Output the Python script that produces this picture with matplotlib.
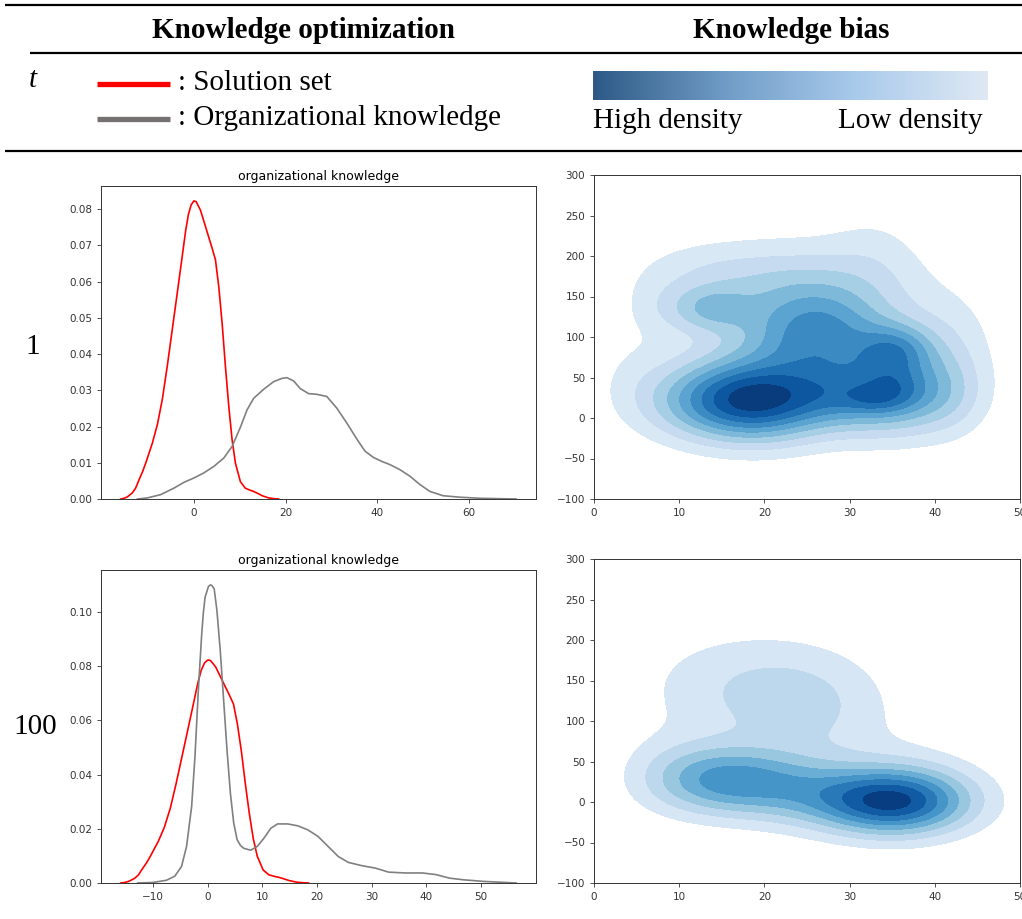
import numpy as np
import matplotlib
matplotlib.use("Agg")
import matplotlib.pyplot as plt
from matplotlib.colors import LinearSegmentedColormap, Normalize
from matplotlib.lines import Line2D

W, H = 1022, 919

# solution set density (same curve in both rows)
sol_x = [-15.94, -15.2, -14.49, -13.41, -12.7, -11.96, -11.2, -10.51, -9.06, -7.97, -6.88, -5.80,
         -4.71, -3.62, -2.54, -1.8, -1.2, -0.6, 0.0, 0.5, 1.45, 2.9, 3.99, 4.71, 5.43, 6.16, 6.88,
         7.61, 8.33, 9.06, 10.14, 11.2, 12.3, 13.0, 14.0, 14.9, 16.3, 17.5, 18.48]
sol_y = [0.0, 0.0002, 0.0006, 0.0017, 0.0030, 0.0053, 0.0075, 0.0099, 0.0154, 0.0205, 0.0275,
         0.0367, 0.0468, 0.0569, 0.0670, 0.0740, 0.0785, 0.0812, 0.0823, 0.0821, 0.0797, 0.0737,
         0.0692, 0.0660, 0.0586, 0.0485, 0.0366, 0.0256, 0.0164, 0.0099, 0.0048, 0.0030, 0.0024,
         0.0021, 0.0015, 0.0009, 0.0003, 0.0001, 0.0]

# organizational knowledge, t = 1
org1_x = [-12.32, -10.14, -7.25, -4.35, -2.17, 0.0, 2.17, 4.35, 6.52, 8.33, 10.14, 11.59, 13.04,
          15.22, 17.39, 19.20, 20.29, 21.74, 23.19, 25.0, 26.81, 28.99, 31.16, 33.33, 35.51,
          37.32, 39.13, 40.94, 42.75, 44.93, 47.10, 49.28, 51.45, 54.35, 57.97, 62.32, 70.29]
org1_y = [0.0, 0.0003, 0.0012, 0.0030, 0.0046, 0.0058, 0.0072, 0.0090, 0.0113, 0.0145, 0.0198,
          0.0246, 0.0278, 0.0303, 0.0324, 0.0333, 0.0335, 0.0326, 0.0305, 0.0291, 0.0289, 0.0283,
          0.0251, 0.0210, 0.0166, 0.0132, 0.0115, 0.0104, 0.0095, 0.0081, 0.0063, 0.0040, 0.0021,
          0.0009, 0.0005, 0.0002, 0.0]

# organizational knowledge, t = 100
org100_x = [-12.84, -10.06, -7.59, -6.05, -4.81, -3.89, -2.96, -2.35, -1.73, -1.11, -0.8, -0.49,
            0.12, 0.45, 0.74, 1.17, 1.67, 2.28, 2.90, 3.52, 4.14, 4.75, 5.37, 6.0, 6.60, 7.84,
            9.07, 10.31, 11.54, 12.78, 14.63, 16.48, 18.33, 20.19, 22.04, 23.89, 25.74, 28.21,
            30.68, 33.15, 36.23, 39.32, 41.79, 44.26, 46.73, 50.43, 56.5]
org100_y = [0.0, 0.0002, 0.0010, 0.0025, 0.0061, 0.0135, 0.0282, 0.0466, 0.0712, 0.0920, 0.1000,
            0.1055, 0.1094, 0.1100, 0.1098, 0.1086, 0.1006, 0.0859, 0.0675, 0.0491, 0.0331,
            0.0221, 0.0160, 0.0138, 0.0128, 0.0121, 0.0135, 0.0166, 0.0202, 0.0218, 0.0218,
            0.0211, 0.0196, 0.0172, 0.0135, 0.0098, 0.0076, 0.0064, 0.0055, 0.0040, 0.0037,
            0.0037, 0.0031, 0.0018, 0.0012, 0.0006, 0.0]

# knowledge bias, t = 1: kernel centres, spreads, weights
bias1_cx = [14.5, 20.5, 28, 35, 35.5, 32.5, 42, 35.5, 26, 26, 13.5, 20, 33, 42, 4, 7, 12]
bias1_cy = [21, 20, 24, 30, 35, 22, 25, 85, 105, 110, 135, 175, 200, 90, 60, 140, 185]
bias1_sx = [6.3, 5.5, 4, 5.5, 2.5, 2.5, 3, 3, 5.5, 10, 3.5, 8, 4, 3.5, 3, 3, 5]
bias1_sy = [34, 34, 25, 36, 18, 12, 35, 22, 40, 66, 20, 30, 45, 45, 35, 30, 25]
bias1_w = [0.55, 0.55, 0.15, 0.55, 0.14, 0.12, 0.1, 0.35, 0.42, 0.3, 0.3, 0.12, 0.08, 0.1,
           0.05, 0.08, 0.07]
bias1_peak = 0.98

# knowledge bias, t = 100
bias100_cx = [35, 37, 14, 20, 25.5, 8, 14, 22, 28]
bias100_cy = [0, 25, 27, 21, 14, 40, 140, 130, 115]
bias100_sx = [6.3, 6, 5.5, 5, 5, 4, 7, 6, 6]
bias100_sy = [28, 40, 30, 30, 30, 35, 50, 50, 50]
bias100_w = [0.85, 0.1, 0.46, 0.22, 0.2, 0.06, 0.14, 0.14, 0.14]
bias100_peak = 0.86

plt.rcParams['font.size'] = 7.5
plt.rcParams['axes.linewidth'] = 0.7
plt.rcParams['xtick.major.size'] = 2.8
plt.rcParams['ytick.major.size'] = 2.8
plt.rcParams['xtick.major.width'] = 0.6
plt.rcParams['ytick.major.width'] = 0.6
plt.rcParams['xtick.labelsize'] = 7.5
plt.rcParams['ytick.labelsize'] = 7.5
plt.rcParams['xtick.color'] = '#333333'
plt.rcParams['ytick.color'] = '#333333'
plt.rcParams['axes.edgecolor'] = '#333333'

SERIF = 'Liberation Serif'

fig = plt.figure(figsize=(W / 100, H / 100), dpi=100)


def rect(x0, y0, x1, y1):
    return [x0 / W, 1 - y1 / H, (x1 - x0) / W, (y1 - y0) / H]


def ftext(x, y, s, ha='center', **kw):
    fig.text(x / W, 1 - y / H, s, family=SERIF, fontsize=21, ha=ha, va='center', **kw)


def hline(x0, x1, y, color='black', lw=1.6):
    fig.add_artist(Line2D([x0 / W, x1 / W], [1 - y / H, 1 - y / H], color=color, lw=lw,
                          solid_capstyle='butt'))


# header table
hline(5, W, 5)
hline(30, W, 53)
hline(5, W, 151)
ftext(303, 31, 'Knowledge optimization', weight='bold')
ftext(791, 31, 'Knowledge bias', weight='bold')
ftext(33, 80, 't', style='italic')
ftext(33, 347, '1')
ftext(35, 727, '100')

hline(97, 170, 84, color='#ff0000', lw=3.8)
hline(97, 170, 119, color='#767171', lw=3.8)
ftext(178, 83, ': Solution set', ha='left')
ftext(178, 118, ': Organizational knowledge', ha='left')

bar_cmap = LinearSegmentedColormap.from_list('bar', ['#2d5986', '#6f9cc6', '#a9caeb', '#dfe9f4'])
bax = fig.add_axes(rect(593, 71, 987, 100))
bax.imshow(np.linspace(0, 1, 256)[None, :], aspect='auto', cmap=bar_cmap)
bax.axis('off')
ftext(593, 121, 'High density', ha='left')
ftext(983, 121, 'Low density', ha='right')


def draw_kde(ax, ox, oy, xticks):
    ax.plot(sol_x, sol_y, color='red', lw=1.2)
    ax.plot(ox, oy, color='gray', lw=1.2)
    ax.set_ylim(bottom=0)
    ax.set_xticks(xticks)
    ax.set_title('organizational knowledge', fontsize=9, pad=4)


ax1 = fig.add_axes(rect(101, 186, 536, 499))
draw_kde(ax1, org1_x, org1_y, [0, 20, 40, 60])
ax2 = fig.add_axes(rect(101, 570, 536, 883))
draw_kde(ax2, org100_x, org100_y, [-10, 0, 10, 20, 30, 40, 50])

gx = np.linspace(-5, 55, 301)
gy = np.linspace(-130, 330, 301)
xx, yy = np.meshgrid(gx, gy)


def density(cx, cy, sx, sy, w, peak):
    z = np.zeros_like(xx)
    for a, b, c, d, e in zip(cx, cy, sx, sy, w):
        z += e * np.exp(-((xx - a) ** 2 / (2 * c * c) + (yy - b) ** 2 / (2 * d * d)))
    return z / z.max() * peak


def draw_bias(ax, z):
    top = np.ceil(z.max() * 10) / 10
    levels = np.linspace(0, top, int(round(top * 10)) + 1)
    # lowest band left unshaded
    ax.contourf(xx, yy, z, levels=levels[1:], cmap='Blues', norm=Normalize(0, top))
    ax.set_xlim(0, 50)
    ax.set_ylim(-100, 300)
    ax.set_xticks([0, 10, 20, 30, 40, 50])
    ax.set_yticks([-100, -50, 0, 50, 100, 150, 200, 250, 300])


ax3 = fig.add_axes(rect(594, 175, 1020, 499))
draw_bias(ax3, density(bias1_cx, bias1_cy, bias1_sx, bias1_sy, bias1_w, bias1_peak))
ax4 = fig.add_axes(rect(594, 559, 1020, 883))
draw_bias(ax4, density(bias100_cx, bias100_cy, bias100_sx, bias100_sy, bias100_w, bias100_peak))

fig.savefig('out.png', dpi=100)
